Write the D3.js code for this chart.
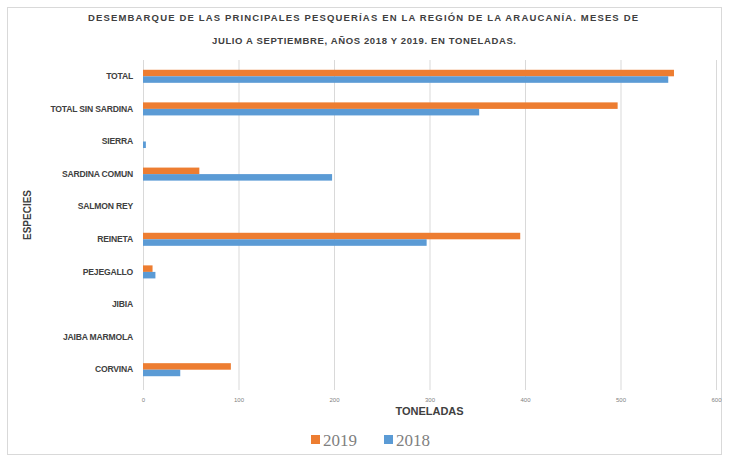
<!DOCTYPE html>
<html>
<head>
<meta charset="utf-8">
<script src="https://cdn.jsdelivr.net/npm/d3@7"></script>
<style>
  body { margin: 0; background: #fff; }
  svg { display: block; }
  .tick line { stroke: #d9d9d9; }
  .domain { display: none; }
</style>
</head>
<body>
<div id="chart"></div>
<script>
// data (toneladas, julio-septiembre)
var categories = ["TOTAL", "TOTAL SIN SARDINA", "SIERRA", "SARDINA COMUN", "SALMON REY",
  "REINETA", "PEJEGALLO", "JIBIA", "JAIBA MARMOLA", "CORVINA"];
var values2019 = [556, 497, 0, 59, 0, 395, 10, 0, 0, 92];
var values2018 = [550, 352, 3, 198, 0, 297, 13, 0, 0, 39];
var seriesNames = ["2019", "2018"];
var xTicks = [0, 100, 200, 300, 400, 500, 600];

var W = 729, H = 462;
var margin = {top: 60, right: 13, bottom: 76, left: 143};
var width = W - margin.left - margin.right;
var height = H - margin.top - margin.bottom;

var colors = {"2019": "#ED7D31", "2018": "#5B9BD5"};

var svg = d3.select("#chart").append("svg")
  .attr("width", W)
  .attr("height", H);

// outer frame
svg.append("rect")
  .attr("x", 7.5).attr("y", 7.5)
  .attr("width", W - 15).attr("height", H - 15)
  .attr("fill", "none")
  .attr("stroke", "#d9d9d9");

var rows = categories.map(function(c, i) {
  return {name: c, groups: [{name: "2019", value: values2019[i]}, {name: "2018", value: values2018[i]}]};
});

var y0 = d3.scaleBand()
  .domain(categories)
  .range([0, height])
  .paddingInner(0.6)
  .paddingOuter(0.3);

var y1 = d3.scaleBand()
  .domain(seriesNames)
  .range([0, y0.bandwidth()]);

var x = d3.scaleLinear()
  .domain([0, 600])
  .range([0, width]);

var g = svg.append("g")
  .attr("transform", "translate(" + margin.left + "," + margin.top + ")");

// gridlines + ticks
var xAxis = d3.axisBottom(x)
  .tickValues(xTicks)
  .tickSizeInner(-height - 4)
  .tickSizeOuter(0)
  .tickPadding(8);

g.append("g")
  .attr("class", "x axis")
  .attr("transform", "translate(0," + (height + 4) + ")")
  .call(xAxis)
  .call(function(s) {
    s.selectAll("text")
      .attr("fill", "#7f7f7f")
      .style("font-family", "Liberation Sans, Arial, sans-serif")
      .style("font-size", "6px");
  });

// category labels
var yAxis = d3.axisLeft(y0).tickSize(0).tickPadding(10);
g.append("g")
  .attr("class", "y axis")
  .call(yAxis)
  .call(function(s) {
    s.selectAll("text")
      .attr("fill", "#404040")
      .style("font-family", "Liberation Sans, Arial, sans-serif")
      .style("font-weight", "bold")
      .style("font-size", "8.6px")
      .style("letter-spacing", "-0.2px");
  });

// bars
var groups = g.selectAll("g.row")
  .data(rows)
  .enter().append("g")
  .attr("class", "row")
  .attr("transform", function(d) { return "translate(0," + y0(d.name) + ")"; });

groups.selectAll("rect")
  .data(function(d) { return d.groups; })
  .enter().append("rect")
  .attr("x", 0)
  .attr("y", function(d) { return y1(d.name); })
  .attr("height", y1.bandwidth())
  .attr("width", function(d) { return x(d.value); })
  .attr("fill", function(d) { return colors[d.name]; });

// title
var title = svg.append("text")
  .attr("text-anchor", "middle")
  .attr("fill", "#404040")
  .style("font-family", "Liberation Sans, Arial, sans-serif")
  .style("font-weight", "bold")
  .style("font-size", "9.5px");
title.append("tspan")
  .attr("x", 363).attr("y", 21)
  .attr("textLength", 550).attr("lengthAdjust", "spacing")
  .text("DESEMBARQUE DE LAS PRINCIPALES PESQUERÍAS EN LA REGIÓN DE LA ARAUCANÍA. MESES DE");
title.append("tspan")
  .attr("x", 364).attr("y", 44)
  .attr("textLength", 304).attr("lengthAdjust", "spacing")
  .text("JULIO A SEPTIEMBRE, AÑOS 2018 Y 2019. EN TONELADAS.");

// axis titles
svg.append("text")
  .attr("x", margin.left + width / 2)
  .attr("y", 415)
  .attr("text-anchor", "middle")
  .attr("fill", "#404040")
  .style("font-family", "Liberation Sans, Arial, sans-serif")
  .style("font-weight", "bold")
  .style("font-size", "11px")
  .text("TONELADAS");

svg.append("text")
  .attr("transform", "translate(31,215) rotate(-90)")
  .attr("text-anchor", "middle")
  .attr("fill", "#404040")
  .style("font-family", "Liberation Sans, Arial, sans-serif")
  .style("font-weight", "bold")
  .style("font-size", "10px")
  .text("ESPECIES");

// legend
var legend = svg.append("g")
  .attr("transform", "translate(311,440)");
var item = legend.selectAll("g")
  .data(seriesNames)
  .enter().append("g")
  .attr("transform", function(d, i) { return "translate(" + (i * 73) + ",0)"; });
item.append("rect")
  .attr("x", 0).attr("y", -5)
  .attr("width", 9).attr("height", 9)
  .attr("fill", function(d) { return colors[d]; });
item.append("text")
  .attr("x", 12).attr("y", 6)
  .attr("fill", "#7f7f7f")
  .style("font-family", "Liberation Serif, Times New Roman, serif")
  .style("font-size", "17px")
  .text(function(d) { return d; });
</script>
</body>
</html>
